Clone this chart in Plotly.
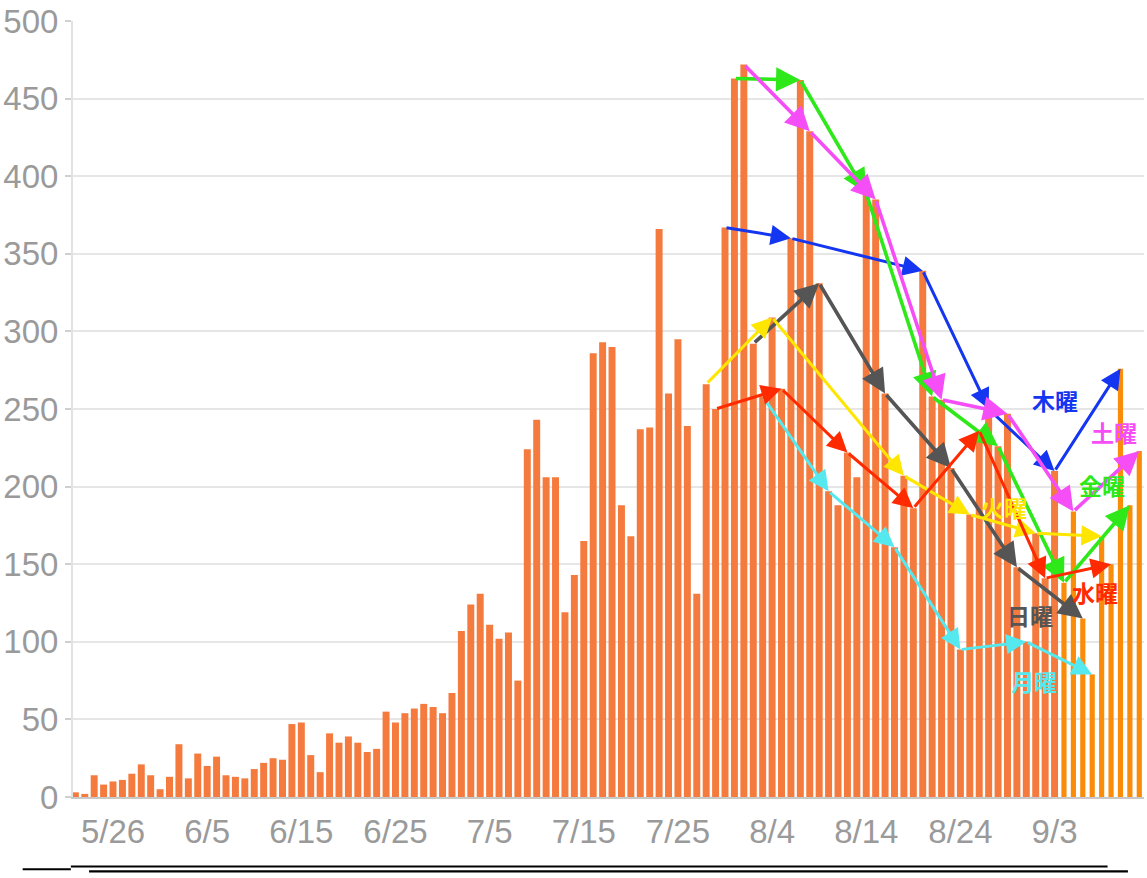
import pandas as pd
import plotly.graph_objects as go

# ---------------- data ----------------
main_start = "2020-05-22"
main_counts = [
    # May 22-31
    3, 2, 14, 8, 10, 11, 15, 21, 14, 5,
    # June
    13, 34, 12, 28, 20, 26, 14, 13, 12, 18, 22, 25, 24, 47, 48, 27, 16, 41, 35, 39,
    35, 29, 31, 55, 48, 54, 57, 60, 58, 54,
    # July
    67, 107, 124, 131, 111, 102, 106, 75, 224, 243, 206, 206, 119, 143, 165, 286,
    293, 290, 188, 168, 237, 238, 366, 260, 295, 239, 131, 266, 250, 367, 463,
    # August
    472, 292, 258, 309, 263, 360, 462, 429, 331, 197, 188, 222, 206, 389, 385, 260,
    161, 207, 186, 339, 258, 256, 212, 95, 182, 236, 250, 226, 247, 148, 100,
    # Sep 1-3
    170, 141, 210,
]
extra_start = "2020-09-04"
extra_counts = [138, 184, 115, 79, 168, 150, 276, 188, 223]

tick_first = "2020-05-26"
tick_last = "2020-09-03"

# weekday chains (dates whose bars are linked by arrows)
thu_dates = ["2020-07-30", "2020-08-06", "2020-08-20", "2020-08-27", "2020-09-03", "2020-09-10"]
fri_dates = ["2020-07-31", "2020-08-07", "2020-08-14", "2020-08-21", "2020-08-28", "2020-09-04", "2020-09-11"]
sat_dates = ["2020-08-01", "2020-08-08", "2020-08-15", "2020-08-22", "2020-08-29", "2020-09-05", "2020-09-12"]
sun_dates = ["2020-08-02", "2020-08-09", "2020-08-16", "2020-08-23", "2020-08-30", "2020-09-06"]
mon_dates = ["2020-08-03", "2020-08-10", "2020-08-17", "2020-08-24", "2020-08-31", "2020-09-07"]
tue_dates = ["2020-07-28", "2020-08-04", "2020-08-18", "2020-08-25", "2020-09-01", "2020-09-08"]
wed_dates = ["2020-07-29", "2020-08-05", "2020-08-12", "2020-08-19", "2020-08-26", "2020-09-02", "2020-09-09"]

weekday_names = ["木曜", "金曜", "土曜", "日曜", "月曜", "火曜", "水曜"]

# ---------------- build ----------------
main_dates = pd.date_range(main_start, periods=len(main_counts), freq="D")
extra_dates = pd.date_range(extra_start, periods=len(extra_counts), freq="D")
value_of = {d.strftime("%Y-%m-%d"): v for d, v in zip(main_dates, main_counts)}
value_of.update({d.strftime("%Y-%m-%d"): v for d, v in zip(extra_dates, extra_counts)})

tick_dates = pd.date_range(tick_first, tick_last, freq="10D")
tick_labels = [f"{d.month}/{d.day}" for d in tick_dates]

DAY_MS = 86400000

fig = go.Figure()
fig.add_trace(go.Bar(
    x=main_dates, y=main_counts,
    marker=dict(color="#f47a3d", line=dict(width=0)),
    width=[0.74 * DAY_MS] * len(main_counts),
    hoverinfo="x+y", showlegend=False,
))
fig.add_trace(go.Bar(
    x=extra_dates, y=extra_counts,
    marker=dict(color="#fb8c0a", line=dict(width=0)),
    width=[0.55 * DAY_MS] * len(extra_counts),
    hoverinfo="x+y", showlegend=False,
))

chains = [thu_dates, fri_dates, sat_dates, sun_dates, mon_dates, tue_dates, wed_dates]
styles = {
    "木曜": dict(color="#1436f0", width=3.0, label=("2020-09-03 02:00", 256)),
    "金曜": dict(color="#2ee81a", width=3.6, label=("2020-09-08 02:00", 201)),
    "土曜": dict(color="#f64ef6", width=3.6, label=("2020-09-09 08:00", 235)),
    "日曜": dict(color="#555555", width=3.6, label=("2020-08-31 09:00", 117)),
    "月曜": dict(color="#55e8ee", width=3.0, label=("2020-08-31 19:00", 75)),
    "火曜": dict(color="#ffe600", width=3.0, label=("2020-08-28 14:00", 187)),
    "水曜": dict(color="#ff2a00", width=3.0, label=("2020-09-07 07:00", 132)),
}

annotations = []
for name, chain in zip(weekday_names, chains):
    st = styles[name]
    for a, b in zip(chain[:-1], chain[1:]):
        annotations.append(dict(
            x=b, y=value_of[b], ax=a, ay=value_of[a],
            xref="x", yref="y", axref="x", ayref="y",
            text="", showarrow=True, arrowhead=2, arrowsize=1.35,
            arrowwidth=st["width"], arrowcolor=st["color"], standoff=0,
        ))
for name in weekday_names:
    st = styles[name]
    lx, ly = st["label"]
    annotations.append(dict(
        x=lx, y=ly, xref="x", yref="y", text=name, showarrow=False,
        font=dict(family="Noto Sans CJK JP", size=23, color=st["color"], weight="bold"),
    ))

# decorative rules below the chart
shapes = [
    dict(type="line", xref="paper", yref="paper", x0=-0.002, x1=0.966, y0=-0.0895, y1=-0.0895,
         line=dict(color="black", width=2)),
    dict(type="line", xref="paper", yref="paper", x0=-0.047, x1=-0.002, y0=-0.093, y1=-0.093,
         line=dict(color="black", width=2)),
    dict(type="line", xref="paper", yref="paper", x0=0.015, x1=0.985, y0=-0.0958, y1=-0.0958,
         line=dict(color="black", width=2.2)),
]

gray = "#9a9a9a"
fig.update_layout(
    width=1147, height=878, autosize=False,
    margin=dict(l=72, r=3, t=19, b=81),
    paper_bgcolor="white", plot_bgcolor="white",
    barmode="overlay", showlegend=False,
    font=dict(family="Liberation Sans, Arial, sans-serif", color=gray),
    xaxis=dict(
        type="date", automargin=False,
        range=["2020-05-21 18:00", "2020-09-12 12:00"],
        tickmode="array", tickvals=tick_dates, ticktext=tick_labels,
        tickfont=dict(size=33, color=gray),
        showgrid=False, zeroline=False,
        showline=True, linecolor="#c8c8c8", linewidth=2,
        ticks="", ticklabelstandoff=4,
    ),
    yaxis=dict(
        range=[0, 500], dtick=50, tick0=0, automargin=True,
        tickfont=dict(size=33, color=gray),
        showgrid=True, gridcolor="#e6e6e6", gridwidth=2,
        zeroline=False, showline=True, linecolor="#e2e2e2", linewidth=2,
        ticks="outside", ticklen=6, tickcolor="#d0d0d0", tickwidth=1.5,
    ),
    annotations=annotations,
    shapes=shapes,
)

fig.write_html("out.html", config={"displayModeBar": False},
               post_script="document.body.style.margin='0';")
